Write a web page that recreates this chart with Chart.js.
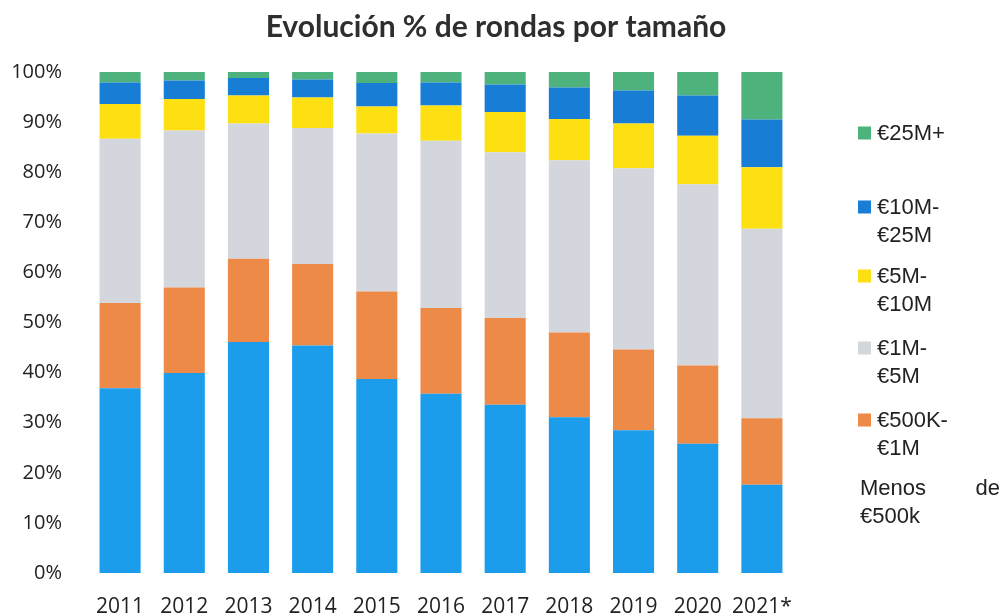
<!DOCTYPE html>
<html>
<head>
<meta charset="utf-8">
<script src="https://cdn.jsdelivr.net/npm/chart.js@4/dist/chart.umd.min.js"></script>
<style>
  html, body { margin: 0; padding: 0; background: #ffffff; }
  #wrap { width: 1003px; height: 614px; position: relative; }
</style>
</head>
<body>
<div id="wrap"><canvas id="c" width="1003" height="614"></canvas></div>
<script>
const categories = ['2011','2012','2013','2014','2015','2016','2017','2018','2019','2020','2021*'];
const menos500k   = [36.9, 39.9, 46.1, 45.4, 38.7, 35.8, 33.6, 31.1, 28.5, 25.8, 17.6];
const k500to1M    = [17.0, 17.1, 16.6, 16.3, 17.5, 17.1, 17.3, 16.9, 16.1, 15.6, 13.3];
const m1to5       = [32.8, 31.3, 27.0, 27.1, 31.5, 33.4, 33.1, 34.4, 36.2, 36.2, 37.8];
const m5to10      = [6.9, 6.3, 5.6, 6.1, 5.4, 7.0, 8.0, 8.2, 8.9, 9.7, 12.3];
const m10to25     = [4.3, 3.7, 3.5, 3.6, 4.7, 4.6, 5.5, 6.3, 6.6, 8.0, 9.5];
const m25plus     = [2.1, 1.7, 1.2, 1.5, 2.2, 2.1, 2.5, 3.1, 3.7, 4.7, 9.5];
const seriesNames = ['Menos de €500k', '€500K-€1M', '€1M-€5M', '€5M-€10M', '€10M-€25M', '€25M+'];
const yTicks = [0,10,20,30,40,50,60,70,80,90,100];
const titleText = 'Evolución % de rondas por tamaño';

const colors = ['#1b9deb', '#ee8a48', '#d3d6dc', '#fde011', '#187dd4', '#4db27c'];
const seriesData = [menos500k, k500to1M, m1to5, m5to10, m10to25, m25plus];

// legend text lines (as shown in the picture), top to bottom
const legendEntries = [
  { idx: 5, lines: ['€25M+'], y: 133 },
  { idx: 4, lines: ['€10M-', '€25M'], y: 207 },
  { idx: 3, lines: ['€5M-', '€10M'], y: 276 },
  { idx: 2, lines: ['€1M-', '€5M'], y: 348 },
  { idx: 1, lines: ['€500K-', '€1M'], y: 420 }
];

const decorPlugin = {
  id: 'decor',
  afterDraw(chart) {
    const ctx = chart.ctx;
    ctx.save();
    // title
    ctx.font = 'bold 30px Lato, sans-serif';
    ctx.fillStyle = '#2e2e2e';
    ctx.textAlign = 'center';
    ctx.textBaseline = 'middle';
    ctx.fillText(titleText, 496, 27);
    // side legend
    ctx.font = '22px "Liberation Sans", Arial, sans-serif';
    ctx.textAlign = 'left';
    const lineH = 27.5;
    legendEntries.forEach(e => {
      const ds = chart.data.datasets[e.idx];
      ctx.fillStyle = ds.backgroundColor;
      ctx.fillRect(858, e.y - 6.5, 13, 13);
      ctx.fillStyle = '#222222';
      e.lines.forEach((t, i) => ctx.fillText(t, 877, e.y + i * lineH + 1));
    });
    ctx.fillStyle = '#222222';
    ctx.fillText('Menos', 860, 489);
    ctx.textAlign = 'right';
    ctx.fillText('de', 1000, 489);
    ctx.textAlign = 'left';
    ctx.fillText('€500k', 860, 517);
    ctx.restore();
  }
};

new Chart(document.getElementById('c'), {
  type: 'bar',
  data: {
    labels: categories,
    datasets: seriesData.map((d, i) => ({
      label: seriesNames[i],
      data: d,
      backgroundColor: colors[i],
      borderWidth: 0,
      categoryPercentage: 0.8,
      barPercentage: 0.8
    }))
  },
  options: {
    responsive: false,
    animation: false,
    devicePixelRatio: 1,
    layout: { padding: { left: 0, right: 209, top: 72, bottom: 0 } },
    plugins: {
      legend: { display: false },
      tooltip: { enabled: false },
      title: { display: false }
    },
    scales: {
      x: {
        stacked: true,
        grid: { display: false },
        border: { display: false },
        ticks: {
          color: '#222222',
          font: { family: '"Open Sans"', size: 21 },
          padding: 13,
          autoSkip: false,
          maxRotation: 0,
          minRotation: 0
        },
        afterFit(scale) { scale.height = 41; }
      },
      y: {
        stacked: true,
        min: 0,
        max: 100,
        grid: { display: false },
        border: { display: false },
        afterBuildTicks(scale) { scale.ticks = yTicks.map(v => ({ value: v })); },
        ticks: {
          color: '#222222',
          font: { family: '"Open Sans"', size: 20 },
          padding: 18,
          callback: v => v + '%'
        },
        afterFit(scale) { scale.width = 88; }
      }
    }
  },
  plugins: [decorPlugin]
});
</script>
</body>
</html>
